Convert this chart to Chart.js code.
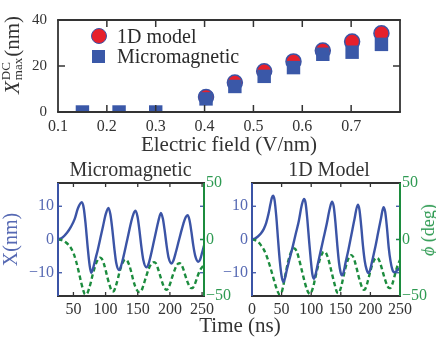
<!DOCTYPE html>
<html><head><meta charset="utf-8">
<script src="https://cdn.jsdelivr.net/npm/chart.js@4.4.1/dist/chart.umd.min.js"></script>
<style>
html,body{margin:0;padding:0;background:#fff;}
body{width:436px;height:340px;position:relative;overflow:hidden;font-family:'Liberation Serif',serif;}
canvas{position:absolute;}
.lbl{position:absolute;white-space:nowrap;line-height:1;transform:translate(-50%,-50%);}
.rot{transform:translate(-50%,-50%) rotate(-90deg);}
.ss{display:inline-flex;flex-direction:column;font-size:13px;line-height:12px;vertical-align:middle;margin:0 1px 0 1px;text-align:left;position:relative;top:-2px;}
.leg{position:absolute;left:90px;font-size:20px;color:#2a2a2a;line-height:1;}
.leg .row{position:absolute;left:0;white-space:nowrap;height:20px;}
.leg .mk{position:absolute;box-sizing:border-box;}
.leg .tx{position:absolute;left:27px;top:0;}
</style></head><body>
<canvas id="cTop" width="436" height="165" style="left:0;top:0"></canvas>
<canvas id="cMicro" width="240" height="180" style="left:0;top:160px"></canvas>
<canvas id="cModel" width="224" height="180" style="left:212px;top:160px"></canvas>
<div class="lbl rot" style="left:13.5px;top:55px;font-size:21px;color:#333"><i>X</i><span class="ss"><span>DC</span><span>max</span></span>(nm)</div>
<div class="leg" id="legend" style="top:0"></div>
<div class="lbl" style="left:130.5px;top:169px;font-size:20px;color:#333">Micromagnetic</div>
<div class="lbl" style="left:329px;top:169px;font-size:20px;color:#333">1D Model</div>
<div class="lbl" style="left:240px;top:325px;font-size:21px;color:#333">Time (ns)</div>
<div class="lbl rot" style="left:428px;top:230px;font-size:18px;color:#2e9a52"><i>ϕ</i> (deg)</div>
<script>
// ---------- data ----------
const seriesNames = ['1D model', 'Micromagnetic'];
const fieldValues = [0.15, 0.225, 0.3, 0.403, 0.462, 0.522, 0.582, 0.642, 0.702, 0.762];
const model1DMax = [null, null, null, 6.5, 12.8, 17.7, 22.0, 26.7, 30.6, 34.2];
const micromagMax = [0, 0, 0, 5.7, 11.1, 15.5, 19.3, 25.1, 26.0, 29.4];
const topXTicks = [0.1, 0.2, 0.3, 0.4, 0.5, 0.6, 0.7];
const topYTicks = [0, 20, 40];

const microXTicks = [50, 100, 150, 200, 250];
const modelXTicks = [0, 50, 100, 150, 200, 250];
const posTicks = [-10, 0, 10];
const phiTicks = [-50, 0, 50];

// [time (ns), X (nm)]
const microX = [[26,0],[33,0.6],[40,2.0],[46,3.8],[52,6.2],[57,9.4],[63,11.2],[66,9.5],[69,4.5],[72,-2],[75,-7.5],[77.5,-10],
 [80,-9],[84,-6],[88,-3],[92,0.5],[96,4],[100,7.5],[104.5,9.5],[107.5,7.5],[110.5,3],[113.5,-2.5],[116.5,-7],[121,-9.2],
 [124,-8],[128,-5],[132,-1.5],[136,2],[140,5.5],[143.5,7.8],[146.5,8.7],[149.5,7],[152.5,3],[155.5,-2],[158.5,-6],[163.5,-8.4],
 [166.5,-7.5],[170,-5],[174,-1.5],[178,2],[182,5.5],[186,8],[189,6.3],[192,2.5],[195,-2],[198,-5.5],[202.5,-7.2],
 [205.5,-6.3],[209,-4],[213,-1],[217,2],[221,4.8],[224.5,6.7],[227.5,7.3],[230.5,5.8],[233.5,2.2],[236.5,-2],[239.5,-5],[244,-6.7],
 [247,-6],[250,-4],[253,-1.8]];
// [time (ns), phi (deg)]
const microPhi = [[26,0],[30,-0.3],[34,-1],[38,-2.5],[42,-4.5],[46,-7.5],[50,-12],[54,-19],[58,-28],[62,-38],[65,-44.5],[68,-48.5],
 [71,-48],[74,-44],[77,-38],[80,-31],[83,-25],[86,-20],[89,-17],[91.5,-16],[94,-17],[97,-21],[100,-27],[103,-34],[106,-40],[109,-45],
 [111,-46],[113,-45.5],[116,-41],[119,-35],[122,-28],[125,-22.5],[128,-19],[131,-17.8],[134,-19],[137,-23],[140,-29],[143,-36],
 [146,-41.5],[149,-45],[152,-46.5],[155,-46],[158,-42],[161,-36.5],[164,-31],[167,-26],[170,-22.5],[173,-20.5],[175.5,-20],[178,-21],
 [181,-25],[184,-30.5],[187,-36],[190,-41],[193,-44],[195,-44.5],[198,-42.5],[201,-38],[204,-32.5],[207,-27.5],[210,-23.5],[213,-21.2],
 [215,-21],[218,-22.5],[221,-26.5],[224,-32],[227,-37],[230,-41],[233,-43],[235,-43],[238,-40.5],[241,-36],[244,-31],[247,-27],
 [250,-24.5],[253,-23]];
const modelX = [[0,0],[5,0.3],[10,0.9],[15,1.8],[20,3.2],[24,5],[28,7.8],[31,10.5],[33.5,12.5],[35.5,13.2],[38,12],[41,7],[44,0],
 [47,-6.5],[50,-11],[52.8,-12.8],[55.5,-11.8],[59,-9],[64,-5.5],[69,-2],[74,1.8],[79,5.5],[84,10.3],[87.7,12.2],[90.5,11],[93.5,6],
 [96.5,-0.5],[99.5,-6.5],[102,-10.5],[104.5,-11.8],[107,-10.8],[111,-7.5],[116,-3.5],[121,0.5],[126,4.5],[131,9],[135,11.4],[138,10],
 [141,5],[144,-1.5],[147,-7],[149.5,-9.8],[151.8,-10.8],[154.5,-10],[158,-7],[163,-3],[168,1.5],[173,6],[178.7,10.5],[181.5,9],
 [184.5,4],[187.5,-2],[190.5,-6.5],[193.5,-9],[196.7,-10.1],[199.5,-9.2],[203,-6.5],[208,-2.5],[213,2],[218,6.5],[222,9.75],[225,8.3],
 [228,3.5],[231,-2.5],[234,-6.5],[237,-9],[240,-9.9],[244,-9.5],[250,-8.5]];
const modelPhi = [[0,0],[5,-0.5],[10,-2],[15,-5],[20,-9],[25,-15],[30,-23],[35,-32],[40,-41],[43,-45.5],[46,-48.5],[49,-48],[52,-43],
 [55,-35],[58,-27],[61,-19.5],[64,-14],[67,-10],[70,-8],[72,-8],[75,-10],[78,-14.5],[81,-20.5],[84,-27],[87,-33.5],[90,-39.5],[93,-44.5],
 [96,-47.5],[98,-48.2],[100,-47],[103,-42.5],[106,-36],[109,-29],[112,-22.5],[115,-17],[118,-13],[121,-11],[123,-11],[126,-13],
 [129,-17.5],[132,-23.5],[135,-30],[138,-36.5],[141,-42.5],[143,-46],[145.5,-47.4],[148,-46],[151,-41],[154,-34],[157,-27],[160,-21],
 [163,-16.5],[166,-14],[168,-13.8],[171,-15.5],[174,-20],[177,-26],[180,-32.5],[183,-38],[186,-42.5],[189,-44.5],[191,-44],[194,-40],
 [197,-34],[200,-28],[203,-22.5],[206,-18.5],[209,-16.5],[211,-16.3],[214,-17.5],[217,-21.5],[220,-27],[223,-32.5],[226,-37.5],
 [229,-41.5],[232,-43],[234,-42.8],[237,-39.5],[240,-34],[243,-28],[246,-23],[250,-18]];

// ---------- styles ----------
const SERIF = "'Liberation Serif', serif";
const RED = '#e6202c', BLUE = '#3b54a6', BLUE_SQ = '#3a58a8', GREEN = '#1c8c3e';
const BLUE_TXT = '#5669b3', GREEN_TXT = '#2e9a52', DARK = '#333';
Chart.defaults.font.family = SERIF;

const fmt = v => v < 0 ? '\u2212' + Math.abs(v) : String(v);
const setTicks = arr => s => { s.ticks = arr.map(v => ({value: v})); };

const framePlugin = {
  id: 'frame',
  afterDraw(chart, args, o) {
    const {ctx, chartArea: a, scales} = chart;
    ctx.save();
    const seg = (x1, y1, x2, y2, c, w) => { ctx.strokeStyle = c; ctx.lineWidth = w; ctx.beginPath(); ctx.moveTo(x1, y1); ctx.lineTo(x2, y2); ctx.stroke(); };
    const tl = o.tick, tw = o.tickWidth;
    scales.x.ticks.forEach(t => { const p = scales.x.getPixelForValue(t.value);
      if (p > a.left + 1 && p < a.right - 1) { seg(p, a.bottom, p, a.bottom - tl, o.xColor, tw); seg(p, a.top, p, a.top + tl, o.xColor, tw); } });
    scales.y.ticks.forEach(t => { const p = scales.y.getPixelForValue(t.value);
      if (p > a.top + 1 && p < a.bottom - 1) { seg(a.left, p, a.left + tl, p, o.yColor, tw); seg(a.right, p, a.right - tl, p, o.yColor, tw); } });
    if (scales.y2) scales.y2.ticks.forEach(t => { const p = scales.y2.getPixelForValue(t.value);
      if (p > a.top + 1 && p < a.bottom - 1) { seg(a.left, p, a.left + tl, p, o.y2Color, tw); seg(a.right, p, a.right - tl, p, o.y2Color, tw); } });
    const w = o.width;
    seg(a.left - w / 2, a.top, a.right + w / 2, a.top, o.hColor, w);
    seg(a.left - w / 2, a.bottom, a.right + w / 2, a.bottom, o.hColor, w);
    seg(a.left, a.top, a.left, a.bottom, o.leftColor, w);
    seg(a.right, a.top, a.right, a.bottom, o.rightColor, w);
    ctx.restore();
  }
};

// ---------- top chart ----------
new Chart(document.getElementById('cTop'), {
  type: 'scatter',
  data: { datasets: [
    { label: seriesNames[0], data: fieldValues.map((x, i) => ({x, y: model1DMax[i]})), pointStyle: 'circle', pointRadius: 7.5,
      backgroundColor: RED, borderColor: BLUE, borderWidth: 1.5, order: 1 },
    { label: seriesNames[1], data: fieldValues.map((x, i) => ({x, y: micromagMax[i]})), pointStyle: 'rect', pointRadius: 9.5,
      backgroundColor: BLUE_SQ, borderColor: BLUE_SQ, borderWidth: 0, order: 0 }
  ]},
  options: {
    responsive: false, animation: false, events: [],
    layout: { padding: { top: 9, right: 36, left: 0, bottom: 0 } },
    plugins: { legend: { display: false }, tooltip: { enabled: false },
      frame: { tick: 7, tickWidth: 1.5, width: 1.8, xColor: DARK, yColor: DARK, hColor: DARK, leftColor: DARK, rightColor: DARK } },
    scales: {
      x: { type: 'linear', min: 0.1, max: 0.8, grid: { display: false, drawTicks: false }, border: { display: false },
        afterBuildTicks: setTicks(topXTicks), afterFit: s => { s.height = 53; },
        ticks: { padding: 5, color: DARK, font: { size: 16 }, autoSkip: false, maxRotation: 0, callback: v => v.toFixed(1) },
        title: { display: true, text: 'Electric field (V/nm)', color: DARK, font: { size: 21 }, padding: { top: 0, bottom: 7 } } },
      y: { min: 0, max: 40, grid: { display: false, drawTicks: false }, border: { display: false },
        afterBuildTicks: setTicks(topYTicks), afterFit: s => { s.width = 58; },
        ticks: { padding: 11, color: DARK, font: { size: 15 }, callback: fmt } }
    }
  },
  plugins: [framePlugin]
});

// legend (HTML, from series names)
const leg = document.getElementById('legend');
[[seriesNames[0], 36, 'circle'], [seriesNames[1], 56, 'rect']].forEach(([name, cy, kind]) => {
  const row = document.createElement('div'); row.className = 'row'; row.style.top = (cy - 10) + 'px';
  const mk = document.createElement('div'); mk.className = 'mk';
  if (kind === 'circle') { Object.assign(mk.style, { width: '16px', height: '16px', left: '0.5px', top: '2px', borderRadius: '50%', background: RED, border: '1.5px solid ' + BLUE }); }
  else { Object.assign(mk.style, { width: '13px', height: '13px', left: '2px', top: '3.5px', background: BLUE_SQ }); }
  const tx = document.createElement('div'); tx.className = 'tx'; tx.textContent = name;
  row.appendChild(mk); row.appendChild(tx); leg.appendChild(row);
});

// ---------- bottom charts ----------
function timeChart(id, cfg) {
  return new Chart(document.getElementById(id), {
    type: 'line',
    data: { datasets: [
      { data: cfg.x.map(p => ({x: p[0], y: p[1]})), yAxisID: 'y', borderColor: BLUE, borderWidth: 2.4, pointRadius: 0,
        cubicInterpolationMode: 'monotone', fill: false },
      { data: cfg.phi.map(p => ({x: p[0], y: p[1]})), yAxisID: 'y2', borderColor: GREEN, borderWidth: 2.4, borderDash: [4.5, 3],
        pointRadius: 0, cubicInterpolationMode: 'monotone', fill: false }
    ]},
    options: {
      responsive: false, animation: false, events: [],
      layout: { padding: { top: 23, right: 0, left: 0, bottom: 0 } },
      plugins: { legend: { display: false }, tooltip: { enabled: false },
        frame: { tick: 4, tickWidth: 1.3, width: 2, xColor: DARK, yColor: BLUE, y2Color: GREEN, hColor: DARK, leftColor: BLUE, rightColor: GREEN } },
      scales: {
        x: { type: 'linear', min: cfg.xmin, max: cfg.xmax, grid: { display: false, drawTicks: false }, border: { display: false },
          afterBuildTicks: setTicks(cfg.xticks), afterFit: s => { s.height = 44; },
          ticks: { padding: 4, color: DARK, font: { size: 16 }, autoSkip: false, maxRotation: 0, callback: fmt } },
        y: { position: 'left', min: -17, max: 17, grid: { display: false, drawTicks: false }, border: { display: false },
          afterBuildTicks: setTicks(posTicks), afterFit: s => { s.width = cfg.leftW; },
          ticks: { padding: 4, color: BLUE_TXT, font: { size: 16 }, callback: fmt },
          title: { display: cfg.leftTitle, text: 'X(nm)', color: BLUE_TXT, font: { size: 20, lineHeight: 1.15 }, padding: 0 } },
        y2: { position: 'right', min: -50, max: 50, grid: { display: false, drawTicks: false }, border: { display: false },
          afterBuildTicks: setTicks(phiTicks), afterFit: s => { s.width = 36; },
          ticks: { padding: 2, color: GREEN_TXT, font: { size: 16 }, callback: fmt } }
      }
    },
    plugins: [framePlugin]
  });
}
timeChart('cMicro', { x: microX, phi: microPhi, xmin: 26, xmax: 253, xticks: microXTicks, leftW: 58, leftTitle: true });
timeChart('cModel', { x: modelX, phi: modelPhi, xmin: 0, xmax: 250, xticks: modelXTicks, leftW: 40, leftTitle: false });
</script>
</body></html>
